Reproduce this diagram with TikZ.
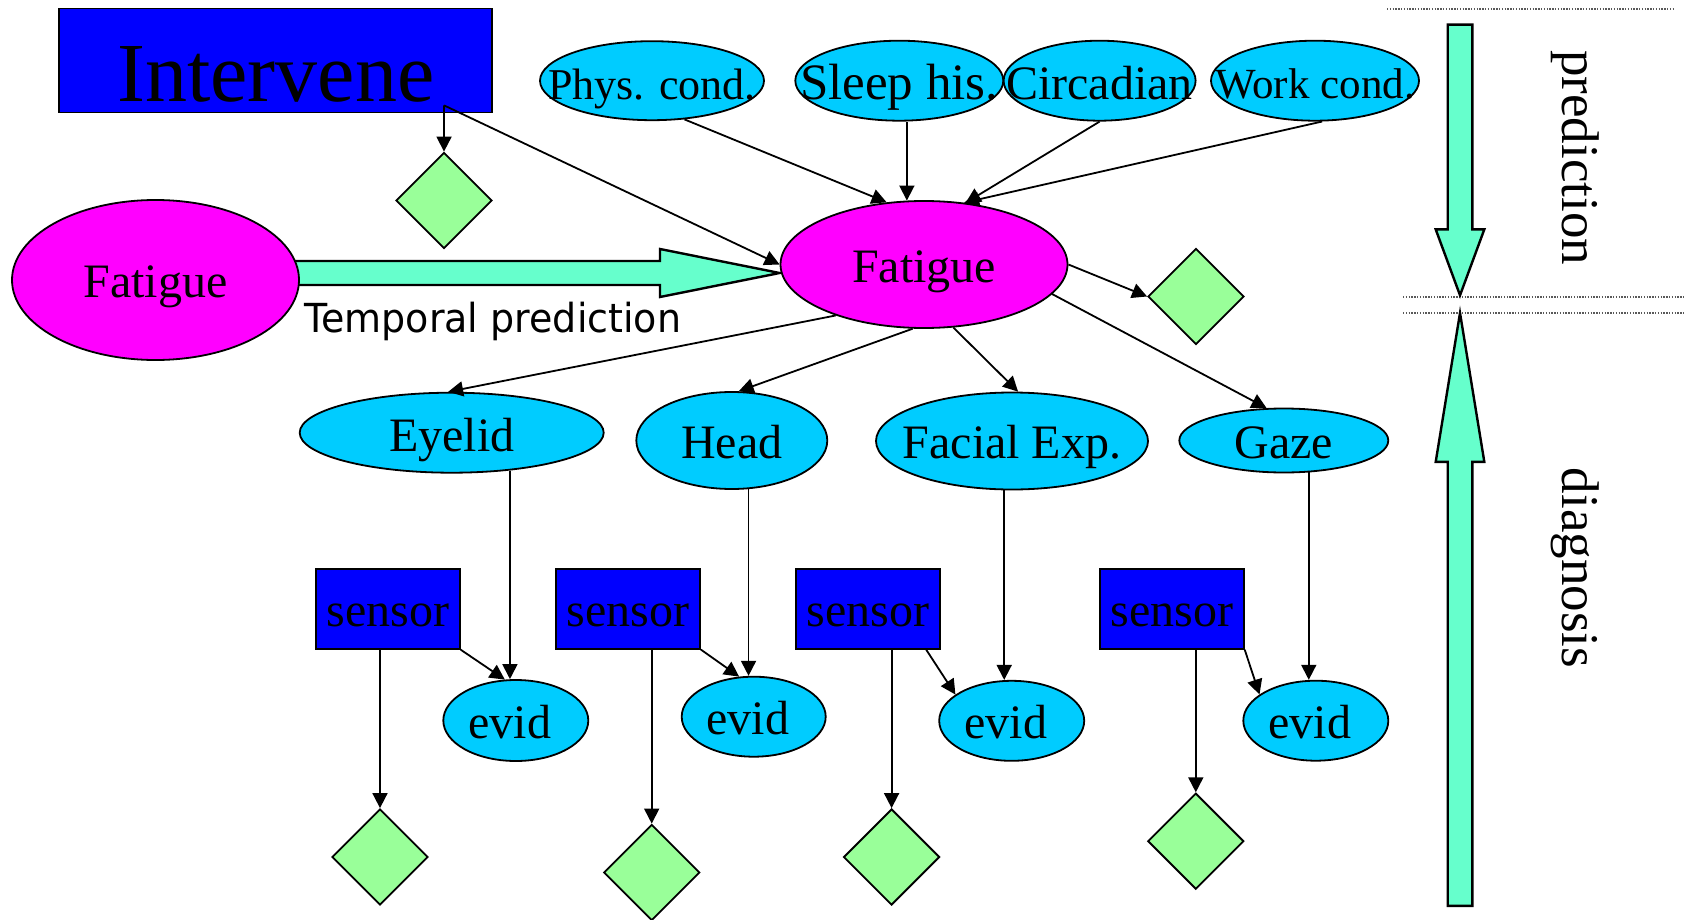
\documentclass[tikz,border=0pt]{standalone}
\usepackage{fontspec}
\setmainfont{Liberation Serif}
\newfontfamily\tahoma[FakeStretch=0.95]{DejaVu Sans}
\usetikzlibrary{shapes.geometric,arrows.meta,backgrounds}
\definecolor{actblue}{RGB}{0,0,255}
\definecolor{obscyan}{RGB}{0,204,255}
\definecolor{fatmag}{RGB}{255,0,255}
\definecolor{utilgreen}{RGB}{153,255,153}
\definecolor{flowgreen}{RGB}{102,255,204}
\newcommand{\nw}[1]{\makebox[0pt]{#1}} % text may run past the ellipse
\tikzset{
  tx/.style 2 args={font=\fontsize{#1}{#1}\selectfont,text height=#2pt,text depth=0pt},
  obs/.style={ellipse,draw,fill=obscyan,inner sep=0pt,tx={48}{35}},
  hid/.style={obs,fill=fatmag},
  act/.style={rectangle,draw,fill=actblue,inner sep=0pt,tx={48}{35}},
  util/.style={diamond,draw,fill=utilgreen,inner sep=0pt,minimum width=96pt,minimum height=96pt},
  arr/.style={-{Triangle[width=15pt,length=15pt]}},
  bigarr/.style={draw=black,fill=flowgreen,line width=2.4pt,line join=miter},
  dotsep/.style={draw=black!65,line width=1.5pt,dash pattern=on 1.4pt off 1.4pt}
}
\begin{document}
\begin{tikzpicture}[x=1pt,y=-1pt,line width=1.8pt]
\useasboundingbox (0,0) rectangle (1685,920);

% top row
\node[act,minimum width=433pt,minimum height=104pt,tx={84}{82}] (interv) at (275.7,60.5) {Intervene};
\node[obs,minimum width=224pt,minimum height=79pt,tx={44}{38.6}] (phys) at (652,80.7) {\nw{Phys. cond.}};
\node[obs,minimum width=208pt,minimum height=80pt,tx={51}{37.2}] (sleep) at (899.3,80.7) {\nw{Sleep his.}};
\node[obs,minimum width=192pt,minimum height=80pt,tx={48}{37.2}] (circ) at (1099.6,80.7) {\nw{Circadian}};
\node[obs,minimum width=208pt,minimum height=80pt,tx={43}{35.2}] (work) at (1315,80.7) {\nw{Work cond.}};
\node[util] (d0) at (444,200.5) {};

% fatigue, t-1 and t
\node[hid,minimum width=287pt,minimum height=160pt] (fatL) at (155.5,280) {\nw{Fatigue}};
\node[hid,minimum width=287pt,minimum height=127pt] (fat) at (924,264.5) {\nw{Fatigue}};
\node[util] (dR) at (1196,296.5) {};
\node[anchor=base west,inner sep=0pt,font=\tahoma\fontsize{40}{40}\selectfont] (tpred) at (303.6,332.7) {Temporal prediction};

% observations
\node[obs,minimum width=304pt,minimum height=80pt,tx={48}{38}] (eyelid) at (451.7,432.7) {\nw{Eyelid}};
\node[obs,minimum width=191pt,minimum height=97pt] (head) at (731.8,440.5) {\nw{Head}};
\node[obs,minimum width=272pt,minimum height=97pt] (facial) at (1012,441) {\nw{Facial Exp.}};
\node[obs,minimum width=209pt,minimum height=64pt] (gaze) at (1283.8,440.5) {\nw{Gaze}};

% sensors
\node[act,minimum width=144pt,minimum height=80pt] (s1) at (387.8,608.8) {sensor};
\node[act,minimum width=144pt,minimum height=80pt] (s2) at (628,608.7) {sensor};
\node[act,minimum width=144pt,minimum height=80pt] (s3) at (867.8,608.8) {sensor};
\node[act,minimum width=144pt,minimum height=80pt] (s4) at (1171.8,608.8) {sensor};

% evidence
\node[obs,minimum width=145pt,minimum height=81pt] (ev1) at (515.8,720.5) {\nw{\hspace{-12pt}evid}};
\node[obs,minimum width=144pt,minimum height=80pt] (ev2) at (753.7,716.7) {\nw{\hspace{-12pt}evid}};
\node[obs,minimum width=145pt,minimum height=80pt] (ev3) at (1011.7,720.8) {\nw{\hspace{-12pt}evid}};
\node[obs,minimum width=145pt,minimum height=80pt] (ev4) at (1315.8,720.7) {\nw{\hspace{-12pt}evid}};

% utilities
\node[util] (d1) at (380,857) {};
\node[util] (d2) at (651.7,872.5) {};
\node[util] (d3) at (891.6,857) {};
\node[util] (d4) at (1195.8,841.2) {};

% links
\coordinate (ivout) at ([xshift=-49pt,yshift=8pt]interv.south east);
\draw[arr] (ivout) -- (d0.north);
\draw[arr] (ivout) -- (fat.west);
\draw[arr] (phys.-50) -- (fat.121);
\draw[arr] (sleep.south -| fat.105) -- (fat.105);
\draw[arr] (circ.south) -- (fat.56);
\draw[arr] (work.-80) -- (fat.57);
\draw[arr] (fat.east) -- (dR.west);
\draw[arr] (fat.210) -- (eyelid.95);
\draw[arr] (fat.-100) -- (head.82);
\draw[arr] (fat.-65) -- (facial.83);
\draw[arr] (fat.-13) -- (gaze.118);
\draw[arr] (eyelid.-33.6) -- (eyelid.-33.6 |- ev1.north);
\draw[arr] (head.-71) -- (head.-71 |- ev2.north);
\draw[arr] (facial.-99) -- (facial.-99 |- ev3.north);
\draw[arr] (gaze.-52) -- (gaze.-52 |- ev4.north);
\draw[arr] (s1.south east) -- (ev1.105);
\draw[arr] (s2.south east) -- (ev2.110);
\draw[arr] (s3.-35) -- (ev3.155);
\draw[arr] (s4.south east) -- (ev4.155);
\draw[arr] (s1.south -| d1.north) -- (d1.north);
\draw[arr] (s2.south -| d2.north) -- (d2.north);
\draw[arr] (s3.south -| d3.north) -- (d3.north);
\draw[arr] (s4.south -| d4.north) -- (d4.north);

% temporal arrow
\begin{pgfonlayer}{background}
\draw[bigarr] ([xshift=-10pt,yshift=19pt]fatL.east) -- (660,261) -- (660,249) -- ([yshift=-8.5pt]fat.west)
  -- (660,297) -- (660,285) -- ([xshift=-10pt,yshift=-5pt]fatL.east) -- cycle;
\end{pgfonlayer}

% prediction / diagnosis
\draw[dotsep] (1387,8.8) -- (1673,8.8);
\draw[dotsep] (1403,297) -- (1685,297);
\draw[dotsep] (1403,313) -- (1685,313);
\draw[bigarr] (1447.7,24.7) -- (1472.3,24.7) -- (1472.3,229.4) -- (1484.3,229.4) -- (1460,295.3)
  -- (1435.7,229.4) -- (1447.7,229.4) -- cycle;
\draw[bigarr] (1447.7,905.9) -- (1447.7,461.8) -- (1435.7,461.8) -- (1460,313) -- (1484.3,461.8)
  -- (1472.3,461.8) -- (1472.3,905.9) -- cycle;
\node[rotate=-90,anchor=base west,inner sep=0pt,font=\fontsize{53}{53}\selectfont] (predlbl) at (1562,50) {prediction};
\node[rotate=-90,anchor=base west,inner sep=0pt,font=\fontsize{53}{53}\selectfont] (diaglbl) at (1562,467.6) {diagnosis};
\end{tikzpicture}
\end{document}
